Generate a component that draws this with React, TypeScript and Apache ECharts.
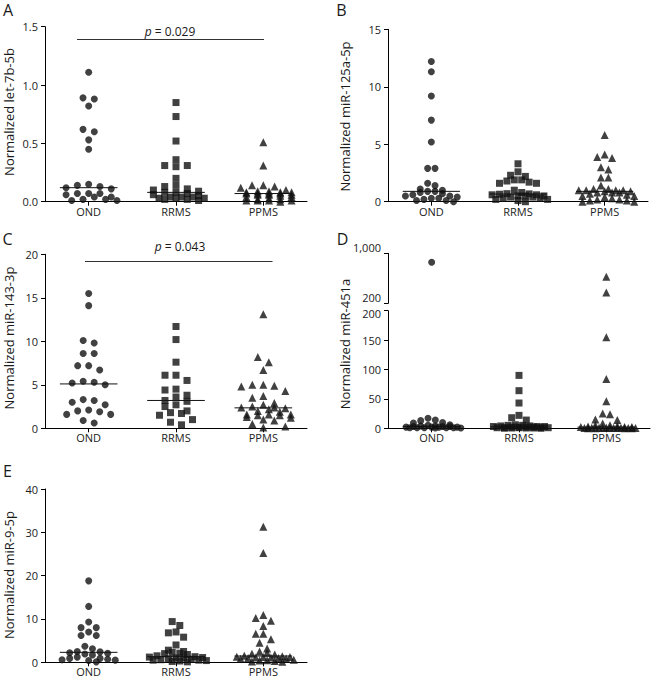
import React, { useEffect, useRef } from 'react';
import * as echarts from 'echarts';

const CATEGORIES = ['OND', 'RRMS', 'PPMS'];

// Panel A – let-7b-5b
const A_OND = [1.11, 0.89, 0.88, 0.82, 0.62, 0.6, 0.53, 0.45, 0.15, 0.14, 0.13, 0.12, 0.11, 0.07, 0.07, 0.07, 0.06, 0.04, 0.04, 0.02, 0.02, 0.01, 0.01];
const A_RRMS = [0.85, 0.73, 0.52, 0.36, 0.31, 0.31, 0.3, 0.2, 0.14, 0.13, 0.11, 0.1, 0.09, 0.08, 0.08, 0.07, 0.06, 0.05, 0.04, 0.04, 0.04, 0.03, 0.03, 0.03, 0.02, 0.02, 0.01];
const A_PPMS = [0.51, 0.31, 0.14, 0.14, 0.13, 0.12, 0.1, 0.09, 0.09, 0.08, 0.08, 0.08, 0.07, 0.07, 0.07, 0.07, 0.06, 0.06, 0.06, 0.05, 0.04, 0.04, 0.03, 0.02, 0.02, 0.01, 0.01, 0.01, 0.01, 0.0];

// Panel B – miR-125a-5p
const B_OND = [12.2, 11.3, 9.2, 7.1, 5.2, 2.9, 2.9, 1.6, 1.4, 1.1, 1.0, 0.9, 0.9, 0.8, 0.7, 0.6, 0.5, 0.5, 0.4, 0.3, 0.3, 0.2, 0.1, 0.1, 0.0];
const B_RRMS = [3.3, 2.6, 2.3, 2.2, 1.9, 1.9, 1.8, 1.7, 1.6, 1.6, 1.0, 0.8, 0.7, 0.68, 0.65, 0.6, 0.6, 0.5, 0.5, 0.5, 0.4, 0.4, 0.3, 0.3, 0.2, 0.2, 0.1, 0.0];
const B_PPMS = [5.8, 4.1, 3.9, 3.8, 3.0, 2.8, 2.1, 2.1, 1.4, 1.1, 1.1, 1.0, 1.0, 1.0, 1.0, 0.9, 0.9, 0.8, 0.8, 0.8, 0.7, 0.6, 0.5, 0.5, 0.4, 0.3, 0.2, 0.2, 0.1, 0.1, 0.0, 0.0];

// Panel C – miR-143-3p
const C_OND = [15.5, 14.1, 10.1, 9.8, 8.6, 8.6, 7.2, 7.2, 6.7, 5.4, 5.3, 5.2, 5.0, 3.3, 3.2, 3.0, 2.7, 2.1, 2.0, 1.9, 1.6, 1.6, 0.9, 0.6];
const C_RRMS = [11.7, 10.2, 7.6, 6.1, 6.1, 5.5, 4.5, 4.4, 3.8, 3.6, 3.2, 3.1, 2.7, 2.5, 2.0, 1.8, 1.7, 1.5, 1.0, 0.7, 0.4];
const C_PPMS = [13.1, 8.2, 7.6, 6.7, 5.0, 5.0, 4.9, 4.8, 4.3, 3.7, 3.5, 2.9, 2.7, 2.5, 2.4, 2.4, 2.3, 2.2, 2.0, 1.9, 1.6, 1.6, 1.6, 1.5, 1.5, 1.3, 1.2, 1.0, 0.9, 0.5, 0.2, 0.1];

// Panel D – miR-451a (broken axis)
const D_OND = [856, 17, 14, 13, 10, 9, 6, 5, 4, 4, 3, 3, 3, 2, 2, 2, 2, 1, 1, 1, 1, 1, 0.5, 0.5];
const D_RRMS = [90, 64, 43, 22, 18, 14, 6, 5, 5, 4, 4, 3, 3, 3, 2, 2, 2, 2, 1, 1, 1, 1, 1, 0.5, 0.5, 0.5, 0.3, 0.2];
const D_PPMS = [626, 371, 155, 84, 46, 25, 24, 15, 14, 8, 5, 5, 4, 3, 2, 2, 2, 1, 1, 1, 1, 1, 0.5, 0.5, 0.5, 0.5, 0.3, 0.3, 0.2, 0.2, 0.1, 0.1];
const D_BREAK = 200;
const D_UPPER_TICKS = [200, 1000];

// Panel E – miR-9-5p
const E_OND = [18.8, 12.9, 9.3, 8.0, 8.0, 7.0, 6.2, 6.2, 3.7, 3.1, 2.5, 2.4, 2.2, 2.1, 1.9, 1.7, 1.2, 0.9, 0.9, 0.7, 0.6, 0.5, 0.4, 0.1];
const E_RRMS = [9.4, 8.5, 7.0, 6.8, 5.8, 4.0, 2.8, 2.5, 2.3, 2.1, 2.0, 1.8, 1.5, 1.3, 1.2, 1.1, 1.0, 1.0, 0.8, 0.7, 0.6, 0.5, 0.5, 0.4, 0.3, 0.2, 0.1];
const E_PPMS = [31.3, 25.2, 10.9, 10.2, 9.6, 8.4, 6.6, 6.6, 5.3, 4.5, 3.2, 2.5, 2.2, 2.0, 1.8, 1.5, 1.4, 1.3, 1.2, 1.2, 1.1, 1.1, 1.0, 1.0, 0.9, 0.8, 0.6, 0.5, 0.4, 0.3, 0.2, 0.1];

const P_A = '0.029';
const P_C = '0.043';

const FONT = "'Open Sans', 'Noto Sans', sans-serif";
const SYMBOLS = ['circle', 'rect', 'triangle'];
const SIZES = [7, 7, 8];
const INK = '#111';

function median(vals: number[]): number {
  const s = [...vals].sort((a, b) => a - b);
  const n = s.length;
  return n % 2 ? s[(n - 1) / 2] : (s[n / 2 - 1] + s[n / 2]) / 2;
}

// Prism-like row layout: points with near-equal values are spread horizontally.
function swarm(vals: number[], toPx: (v: number) => number, stepPx: number, sizePx: number, maxPerRow: number, bandPx: number): number[] {
  const order = vals.map((_, i) => i).sort((a, b) => vals[b] - vals[a]);
  const out = new Array(vals.length).fill(0);
  let i = 0;
  let shiftNext = false;
  while (i < order.length) {
    const y0 = toPx(vals[order[i]]);
    const row = [order[i]];
    i++;
    while (i < order.length && row.length < maxPerRow && y0 - toPx(vals[order[i]]) < sizePx) {
      row.push(order[i]);
      i++;
    }
    const shift = shiftNext ? stepPx / 2 : 0;
    shiftNext = row.length === maxPerRow && i < order.length && y0 - toPx(vals[order[i]]) < sizePx;
    const n = row.length;
    const slots: number[] = [];
    for (let j = 0; j < n; j++) slots.push(j - (n - 1) / 2);
    slots.sort((a, b) => Math.abs(a) - Math.abs(b) || a - b);
    row.forEach((idx, j) => {
      out[idx] = (slots[j] * stepPx + shift) / bandPx;
    });
  }
  return out;
}

export default function App() {
  const ref = useRef<HTMLDivElement>(null);

  useEffect(() => {
    if (!ref.current) return;
    const chart = echarts.init(ref.current, undefined, { renderer: 'svg' });

    const grids: any[] = [];
    const xAxes: any[] = [];
    const yAxes: any[] = [];
    const series: any[] = [];
    const graphics: any[] = [];

    const axisLine = { show: true, onZero: false, lineStyle: { color: '#000', width: 1 } };
    const axisTick = { show: true, length: 4, lineStyle: { color: '#000', width: 1 } };
    const labelStyle = { fontFamily: FONT, fontSize: 11, color: '#222' };

    function addGrid(box: any, showX: boolean, yCfg: any): number {
      const gi = grids.length;
      grids.push({ left: box.left, top: box.top, width: box.width, height: box.height });
      xAxes.push({
        type: 'category', gridIndex: gi, data: CATEGORIES, boundaryGap: true, show: showX,
        axisLine, axisTick: { ...axisTick, alignWithLabel: true },
        axisLabel: { ...labelStyle, margin: 4 }, splitLine: { show: false },
      });
      xAxes.push({ type: 'value', gridIndex: gi, min: -0.5, max: 2.5, show: false });
      yAxes.push({
        type: 'value', gridIndex: gi, axisLine, axisTick,
        splitLine: { show: false },
        ...yCfg,
        axisLabel: { ...labelStyle, margin: 7, ...(yCfg.axisLabel || {}) },
      });
      return gi;
    }

    function addPoints(gi: number, g: number, vals: number[], offs: number[], filter: (v: number) => boolean) {
      const data: number[][] = [];
      vals.forEach((v, k) => { if (filter(v)) data.push([g + offs[k], v]); });
      series.push({
        type: 'scatter', xAxisIndex: gi * 2 + 1, yAxisIndex: gi, data,
        symbol: SYMBOLS[g], symbolSize: SIZES[g], itemStyle: { color: INK }, silent: true, clip: false,
      });
    }

    function addMedian(gi: number, g: number, m: number) {
      series.push({
        type: 'line', xAxisIndex: gi * 2 + 1, yAxisIndex: gi,
        data: [[g - 0.33, m], [g + 0.33, m]], showSymbol: false, symbol: 'none',
        lineStyle: { color: INK, width: 1 }, silent: true, z: 3,
      });
    }

    function text(x: number, y: number, t: string, size: number, rot = 0, extra: any = {}) {
      graphics.push({
        type: 'text', x, y, rotation: rot,
        style: { text: t, fontFamily: FONT, fontSize: size, fill: '#1a1a1a', align: 'center', verticalAlign: 'middle', ...extra },
      });
    }

    const simplePanels = [
      { box: { left: 45, top: 26.7, width: 262, height: 175 }, groups: [A_OND, A_RRMS, A_PPMS], min: 0, max: 1.5, interval: 0.5, dec: 1, step: 11.3, perRow: 5 },
      { box: { left: 388, top: 29.3, width: 260, height: 172.4 }, groups: [B_OND, B_RRMS, B_PPMS], min: 0, max: 15, interval: 5, dec: 0, step: 7.4, perRow: 8 },
      { box: { left: 45, top: 254.3, width: 262, height: 174 }, groups: [C_OND, C_RRMS, C_PPMS], min: 0, max: 20, interval: 5, dec: 0, step: 11, perRow: 5 },
      { box: { left: 45, top: 489, width: 262, height: 173.3 }, groups: [E_OND, E_RRMS, E_PPMS], min: 0, max: 40, interval: 10, dec: 0, step: 7.6, perRow: 8 },
    ];

    simplePanels.forEach((p) => {
      const gi = addGrid(p.box, true, {
        min: p.min, max: p.max, interval: p.interval,
        axisLabel: { formatter: (v: number) => v.toFixed(p.dec) },
      });
      const pxPer = p.box.height / (p.max - p.min);
      const band = p.box.width / 3;
      p.groups.forEach((vals, g) => {
        const offs = swarm(vals, (v) => v * pxPer, p.step, 7, p.perRow, band);
        addPoints(gi, g, vals, offs, () => true);
        addMedian(gi, g, median(vals));
      });
    });

    // Panel D: broken axis, two grids
    const dUpperBox = { left: 388, top: 253.3, width: 262, height: 50 };
    const dLowerBox = { left: 388, top: 310.7, width: 262, height: 117.6 };
    const giU = addGrid(dUpperBox, false, {
      min: D_BREAK, max: 1000,
      axisTick: { ...axisTick, customValues: D_UPPER_TICKS },
      axisLabel: {
        customValues: D_UPPER_TICKS, lineHeight: 9,
        verticalAlign: 'bottom', padding: [0, 0, 1, 0],
        formatter: (v: number) => v.toLocaleString('en-US'),
      },
    });
    const giL = addGrid(dLowerBox, true, {
      min: 0, max: D_BREAK, interval: 50,
      axisLabel: {
        formatter: (v: number) => (v === D_BREAK ? '{low|' + v + '}' : String(v)),
        rich: { low: { fontFamily: FONT, fontSize: 11, color: '#222', lineHeight: 11, padding: [5, 0, 0, 0] } },
      },
    });
    const lowPer = dLowerBox.height / D_BREAK;
    const gap = dUpperBox.top + dUpperBox.height;
    const upPer = dUpperBox.height / (1000 - D_BREAK);
    const dToPx = (v: number) => (v <= D_BREAK ? v * lowPer : dLowerBox.height + (dLowerBox.top - gap) + (v - D_BREAK) * upPer);
    [D_OND, D_RRMS, D_PPMS].forEach((vals, g) => {
      const offs = swarm(vals, dToPx, 7.3, 7, 8, dLowerBox.width / 3);
      addPoints(giL, g, vals, offs, (v) => v <= D_BREAK);
      addPoints(giU, g, vals, offs, (v) => v > D_BREAK);
      addMedian(giL, g, median(vals));
    });

    // Panel letters
    const letter = { verticalAlign: 'top', lineHeight: 16 };
    text(8, 2, 'A', 16, 0, letter);
    text(341.5, 2, 'B', 16, 0, letter);
    text(7.5, 231, 'C', 16, 0, letter);
    text(342.5, 231, 'D', 16, 0, letter);
    text(7.5, 463, 'E', 16, 0, letter);

    // Y-axis titles
    const R = Math.PI / 2;
    text(8.5, 112, 'Normalized let-7b-5b', 13, R);
    text(344.5, 116.5, 'Normalized miR-125a-5p', 13, R);
    text(8.5, 338, 'Normalized miR-143-3p', 13, R);
    text(344.5, 344, 'Normalized miR-451a', 13, R);
    text(8.5, 575, 'Normalized miR-9-5p', 13, R);

    // Significance bars
    const rich = { i: { fontStyle: 'italic', fontFamily: FONT, fontSize: 12, fill: '#1a1a1a' } };
    graphics.push({ type: 'line', shape: { x1: 77, y1: 39.5, x2: 264, y2: 39.5 }, style: { stroke: '#333', lineWidth: 1 } });
    text(170, 31.5, '{i|p} = ' + P_A, 12, 0, { rich });
    graphics.push({ type: 'line', shape: { x1: 85, y1: 261.5, x2: 272.5, y2: 261.5 }, style: { stroke: '#333', lineWidth: 1 } });
    text(180, 246, '{i|p} = ' + P_C, 12, 0, { rich });

    chart.setOption({
      animation: false,
      backgroundColor: '#fff',
      textStyle: { fontFamily: FONT },
      grid: grids,
      xAxis: xAxes,
      yAxis: yAxes,
      series,
      graphic: graphics,
    });

    return () => chart.dispose();
  }, []);

  return <div ref={ref} style={{ position: 'absolute', left: 0, top: 0, width: 653, height: 679 }} />;
}
